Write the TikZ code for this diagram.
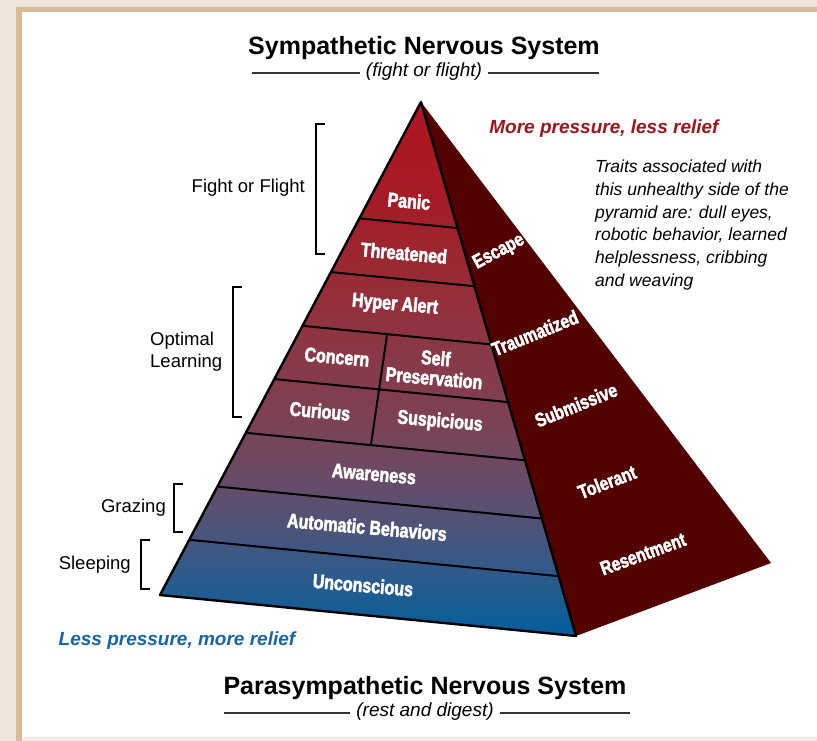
\documentclass[tikz,border=0pt]{standalone}
\usepackage{fontspec}
\setmainfont{Liberation Sans}
\newfontfamily\condfont{Liberation Sans Bold}[FakeStretch=0.8,FakeBold=2.4]
\usetikzlibrary{calc}
\definecolor{frameback}{HTML}{EFE7DC}
\definecolor{frametan}{HTML}{D5BC96}
\definecolor{framefoot}{HTML}{F1EEE9}
\definecolor{sidered}{HTML}{520000}
\definecolor{morered}{HTML}{A0141C}
\definecolor{lessblue}{HTML}{1764A8}
\definecolor{tier0}{HTML}{005E9C}
\definecolor{tier1}{HTML}{2E5B8C}
\definecolor{tier2}{HTML}{4E5378}
\definecolor{tier3}{HTML}{6A4A65}
\definecolor{tier4}{HTML}{7D4152}
\definecolor{tier5}{HTML}{883948}
\definecolor{tier6}{HTML}{93303C}
\definecolor{tier7}{HTML}{9C2630}
\definecolor{tier8}{HTML}{A51C26}
\definecolor{tier9}{HTML}{B01420}
\pgfdeclareverticalshading{tiers}{100bp}{
  color(0bp)=(tier0); color(25bp)=(tier0); color(30.7bp)=(tier1);
  color(35.2bp)=(tier2); color(40.15bp)=(tier3); color(45.7bp)=(tier4);
  color(50.85bp)=(tier5); color(56bp)=(tier6); color(60.85bp)=(tier7);
  color(65.8bp)=(tier8); color(75bp)=(tier9); color(100bp)=(tier9)}
\tikzset{
  tier/.style={text=white,inner sep=0pt,align=center,rotate=-5,
    font=\condfont\fontsize{20}{20}\selectfont},
  sidelabel/.style={text=white,inner sep=0pt,
    font=\condfont\fontsize{19.5}{20}\selectfont},
  stage/.style={inner sep=0pt,font=\fontsize{18.5}{22}\selectfont},
  heading/.style={inner sep=0pt,font=\bfseries\fontsize{25}{28}\selectfont},
  subheading/.style={inner sep=0pt,font=\itshape\fontsize{19}{22}\selectfont},
  pressure/.style={inner sep=0pt,font=\bfseries\itshape\fontsize{19}{22}\selectfont},
  traits/.style={inner sep=0pt,align=left,font=\itshape\fontsize{17.5}{22.7}\selectfont},
  tierline/.style={draw=black,line width=2pt},
  edge/.style={draw=black,line width=2.4pt,line join=round},
  bracket/.style={draw=black,line width=1.1pt},
  rule/.style={draw=black!80,line width=1.1pt}
}

\begin{document}
\begin{tikzpicture}[x=1pt,y=-1pt]
\useasboundingbox (0,0) rectangle (817,741);

% page frame
\fill[frameback] (0,0) rectangle (817,741);
\fill[frametan] (16,7) rectangle (817,741);
\fill[white] (22,12) rectangle (817,737);
\fill[framefoot] (22,737) rectangle (817,741);

% pyramid corners
\coordinate (apex) at (421,102);
\coordinate (baseL) at (160,595);
\coordinate (baseR) at (576,636);
\coordinate (sideC) at (771,563);

\fill[sidered] (apex) -- (baseR) -- (sideC) -- cycle;
\shade[shading=tiers] (apex) -- (baseL) -- (baseR) -- cycle;

\foreach \t [count=\i] in {0.236,0.345,0.454,0.562,0.671,0.780,0.888} {
  \coordinate (l\i) at ($(apex)!\t!(baseL)$);
  \coordinate (r\i) at ($(apex)!\t!(baseR)$);
  \draw[tierline] (l\i) -- (r\i);
}
\foreach \i in {3,4,5}
  \coordinate (m\i) at ($(l\i)!0.448!(r\i)$);
\draw[tierline] (m3) -- (m4) -- (m5);
\draw[edge] (apex) -- (baseL) -- (baseR) -- cycle;

% front face
\node[tier] (panic) at (409,201) {Panic};
\node[tier] (threat) at (404,253) {Threatened};
\node[tier] (hyper) at (395,305) {Hyper Alert};
\node[tier] (concern) at (337,357) {Concern};
\node[tier] (selfpres) at (435,368) {Self\\Preservation};
\node[tier] (curious) at (320,411) {Curious};
\node[tier] (suspic) at (440,422) {Suspicious};
\node[tier] (aware) at (374,474) {Awareness};
\node[tier] (autobeh) at (367,527) {Automatic Behaviors};
\node[tier] (uncon) at (363,585) {Unconscious};

% unhealthy side
\node[sidelabel,rotate=28] (escape) at (499,252) {Escape};
\node[sidelabel,rotate=22] (trauma) at (535,333) {Traumatized};
\node[sidelabel,rotate=22] (submit) at (576,405) {Submissive};
\node[sidelabel,rotate=21] (tolerant) at (607,482) {Tolerant};
\node[sidelabel,rotate=20] (resent) at (643,554) {Resentment};

\node[pressure,text=morered] (more) at (604,129) {More pressure, less relief};
\node[traits,anchor=north west] (traits) at (595,160) {Traits associated with\\
  this unhealthy side of the\\pyramid are: dull eyes,\\
  robotic behavior, learned\\helplessness, cribbing\\and weaving};
\node[pressure,text=lessblue] (less) at (177,641) {Less pressure, more relief};

% stages on the left
\node[stage,anchor=east] (fight) at (305,188) {Fight or Flight};
\node[stage,anchor=west,align=left] (optimal) at (150,352) {Optimal\\Learning};
\node[stage,anchor=east] (grazing) at (166,508) {Grazing};
\node[stage,anchor=east] (sleeping) at (131,565) {Sleeping};
\foreach \bx/\ytop/\ybot in {316/124/254,233/287/417,174/484/532,141/540/589}
  \draw[bracket] (\bx+9,\ytop) -| (\bx,\ybot) -- (\bx+9,\ybot);

% titles
\node[heading] (sympa) at (424,48) {Sympathetic Nervous System};
\node[subheading] (sympasub) at (424,72) {(fight or flight)};
\draw[rule] ([xshift=-6pt,yshift=-1pt]sympasub.west) -- ++(-108,0);
\draw[rule] ([xshift=6pt,yshift=-1pt]sympasub.east) -- ++(111,0);

\node[heading] (para) at (425,688) {Parasympathetic Nervous System};
\node[subheading] (parasub) at (425,712) {(rest and digest)};
\draw[rule] ([xshift=-6pt,yshift=-1pt]parasub.west) -- ++(-126,0);
\draw[rule] ([xshift=6pt,yshift=-1pt]parasub.east) -- ++(130,0);

\end{tikzpicture}
\end{document}
